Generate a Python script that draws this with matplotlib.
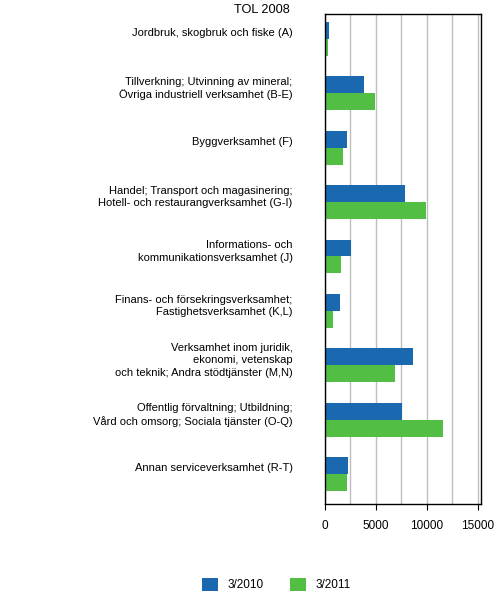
import matplotlib
matplotlib.use('Agg')
import matplotlib.pyplot as plt
import matplotlib.transforms as mtransforms
import numpy as np

plt.rcParams['font.family'] = ['Liberation Sans', 'DejaVu Sans']

categories = [
    'Jordbruk, skogbruk och fiske (A)',
    'Tillverkning; Utvinning av mineral;\nÖvriga industriell verksamhet (B-E)',
    'Byggverksamhet (F)',
    'Handel; Transport och magasinering;\nHotell- och restaurangverksamhet (G-I)',
    'Informations- och\nkommunikationsverksamhet (J)',
    'Finans- och försekringsverksamhet;\nFastighetsverksamhet (K,L)',
    'Verksamhet inom juridik,\nekonomi, vetenskap\noch teknik; Andra stödtjänster (M,N)',
    'Offentlig förvaltning; Utbildning;\nVård och omsorg; Sociala tjänster (O-Q)',
    'Annan serviceverksamhet (R-T)',
]
v2010 = [420, 3850, 2190, 7870, 2580, 1500, 8660, 7580, 2290]
v2011 = [320, 4930, 1790, 9930, 1600, 810, 6890, 11600, 2190]
xticks = [0, 5000, 10000, 15000]

blue = '#1a69b0'
green = '#52be44'

fig = plt.figure(figsize=(5, 6), dpi=100)
ax = fig.add_axes([0.649, 0.16, 0.3136, 0.816])

y = np.arange(len(categories))
h = 0.31
ax.barh(y - h / 2, v2010, height=h, color=blue, label='3/2010')
ax.barh(y + h / 2, v2011, height=h, color=green, label='3/2011')

ax.set_ylim(len(categories) - 0.45, -0.45)
ax.set_xlim(0, 15350)
ax.set_xticks(xticks)
ax.set_xticks(np.arange(2500, 15001, 2500), minor=True)
ax.tick_params(axis='x', which='major', length=4.5, labelsize=8.5, pad=7)
ax.tick_params(axis='x', which='minor', length=0)
ax.grid(axis='x', which='both', color='#bebebe', linewidth=1)
ax.set_axisbelow(True)

ax.set_yticks(y)
ax.set_yticklabels(categories, fontsize=8, linespacing=1.3)
ax.tick_params(axis='y', length=0, pad=23)
shift = mtransforms.ScaledTranslation(0, 7 / 100, fig.dpi_scale_trans)
for lbl in ax.get_yticklabels():
    lbl.set_transform(lbl.get_transform() + shift)

for s in ax.spines.values():
    s.set_linewidth(1)
    s.set_color('black')

fig.text(0.523, 0.984, 'TOL 2008', ha='center', va='center', fontsize=9.2)

fig.legend(loc='center', bbox_to_anchor=(0.553, 0.026), ncol=2, frameon=False,
           fontsize=8.5, handlelength=1.4, handleheight=1.4, columnspacing=2.2,
           handletextpad=0.8)

fig.savefig('out.png', dpi=100)
